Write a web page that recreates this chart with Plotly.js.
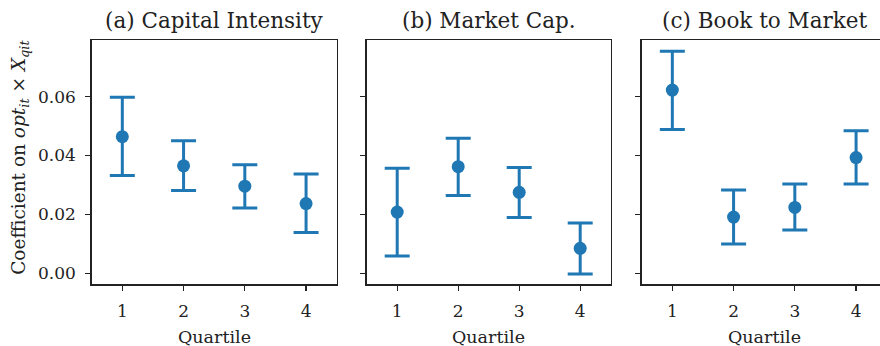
<!DOCTYPE html>
<html>
<head>
<meta charset="utf-8">
<script src="https://cdn.plot.ly/plotly-3.0.1.min.js"></script>
<style>
html, body { margin: 0; padding: 0; overflow: hidden; background: #fff; }
#chart { width: 887px; height: 346px; }
</style>
</head>
<body>
<div id="chart"></div>
<script>
const quartiles = [1, 2, 3, 4];
const tickLabels = ['1', '2', '3', '4'];
const panelTitles = ['(a) Capital Intensity', '(b) Market Cap.', '(c) Book to Market'];

const capCoef  = [0.0464, 0.0365, 0.0296, 0.0237];
const capUpper = [0.0598, 0.0450, 0.0369, 0.0337];
const capLower = [0.0332, 0.0281, 0.0222, 0.0139];

const mktCoef  = [0.0208, 0.0362, 0.0275, 0.0085];
const mktUpper = [0.0357, 0.0459, 0.0359, 0.0171];
const mktLower = [0.0059, 0.0264, 0.0190, -0.0002];

const btmCoef  = [0.0622, 0.0191, 0.0224, 0.0393];
const btmUpper = [0.0754, 0.0283, 0.0303, 0.0484];
const btmLower = [0.0488, 0.0100, 0.0147, 0.0303];

const yTicks = [0.00, 0.02, 0.04, 0.06];
const yTickLabels = ['0.00', '0.02', '0.04', '0.06'];

const W = 887, H = 346;
const blue = '#1f77b4';
const font = 'DejaVu Serif, serif';
const ink = '#222';

const panels = [
  [capCoef, capUpper, capLower],
  [mktCoef, mktUpper, mktLower],
  [btmCoef, btmUpper, btmLower]
];
const pxDomains = [[91.7, 336.7], [366.7, 610.7], [641.7, 886.7]];

const traces = panels.map((p, i) => {
  const [c, u, l] = p;
  return {
    type: 'scatter', mode: 'markers',
    x: quartiles, y: c,
    xaxis: i === 0 ? 'x' : 'x' + (i + 1),
    yaxis: i === 0 ? 'y' : 'y' + (i + 1),
    marker: { color: blue, size: 13 },
    error_y: {
      type: 'data', symmetric: false,
      array: u.map((v, k) => v - c[k]),
      arrayminus: c.map((v, k) => v - l[k]),
      color: blue, thickness: 3, width: 12.5
    },
    showlegend: false, hoverinfo: 'skip'
  };
});

const layout = {
  width: W, height: H,
  margin: { l: 0, r: 0, t: 40, b: 61.7 },
  paper_bgcolor: '#fff', plot_bgcolor: '#fff',
  font: { family: font, size: 17, color: ink },
  annotations: [],
  showlegend: false
};

pxDomains.forEach((d, i) => {
  const sfx = i === 0 ? '' : String(i + 1);
  layout['xaxis' + sfx] = {
    domain: [d[0] / W, d[1] / W],
    anchor: 'y' + sfx,
    range: [0.5, 4.5],
    tickvals: quartiles, ticktext: tickLabels,
    ticks: 'outside', ticklen: 5, tickwidth: 1.3, tickcolor: ink,
    ticklabelstandoff: 6,
    showline: true, linecolor: ink, linewidth: 1.5, mirror: true,
    showgrid: false, zeroline: false,
    tickfont: { family: font, size: 17, color: ink },
    fixedrange: true
  };
  layout['yaxis' + sfx] = {
    domain: [0, 1],
    anchor: 'x' + sfx,
    range: [-0.0036, 0.0792],
    tickvals: yTicks, ticktext: yTickLabels,
    showticklabels: i === 0,
    ticks: 'outside', ticklen: 5, tickwidth: 1.3, tickcolor: ink,
    ticklabelstandoff: 6,
    showline: true, linecolor: ink, linewidth: 1.5, mirror: true,
    showgrid: false, zeroline: false,
    tickfont: { family: font, size: 17, color: ink },
    fixedrange: true
  };
  layout.annotations.push({
    text: panelTitles[i], xref: 'paper', yref: 'paper',
    x: (d[0] + d[1]) / 2 / W, y: 1, yshift: 20,
    xanchor: 'center', yanchor: 'middle', showarrow: false,
    font: { family: font, size: 21.5, color: ink }
  });
  layout.annotations.push({
    text: 'Quartile', xref: 'paper', yref: 'paper',
    x: (d[0] + d[1]) / 2 / W, y: 0, yshift: -53,
    xanchor: 'center', yanchor: 'middle', showarrow: false,
    font: { family: font, size: 17.5, color: ink }
  });
});

layout.annotations.push({
  text: 'Coefficient on <i>opt</i><sub><i>it</i></sub> × <i>X</i><sub><i>qit</i></sub>',
  xref: 'paper', yref: 'paper', x: 20 / W, y: (H - 61.7 - 158) / (H - 101.7),
  xanchor: 'center', yanchor: 'middle', textangle: -90, showarrow: false,
  font: { family: font, size: 18.5, color: ink }
});

Plotly.newPlot('chart', traces, layout, { displayModeBar: false, staticPlot: true });
</script>
</body>
</html>
